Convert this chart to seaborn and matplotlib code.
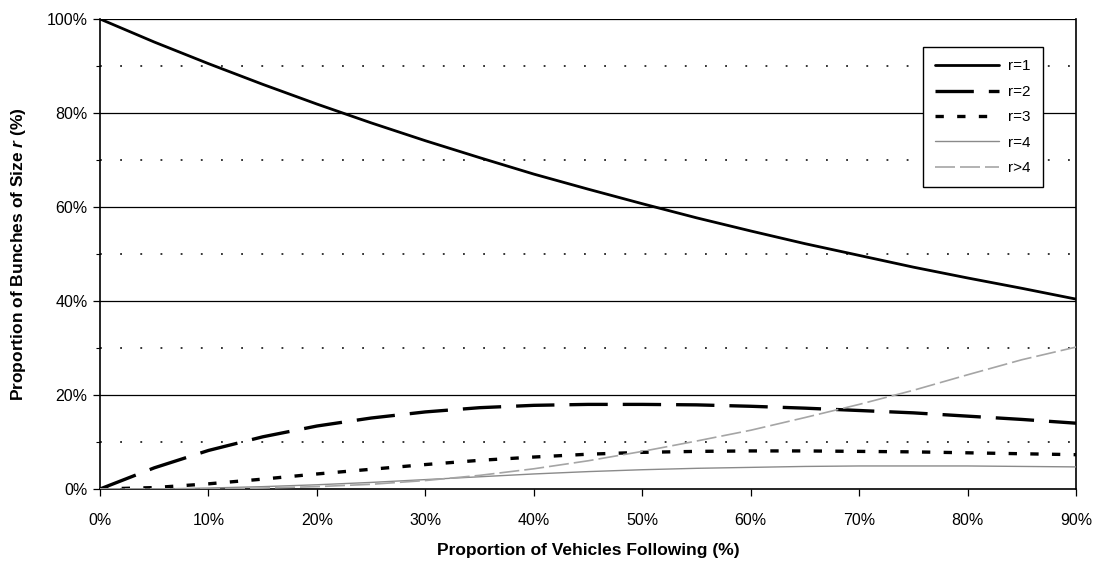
import matplotlib
matplotlib.use("Agg")
import matplotlib.pyplot as plt
import seaborn as sns
import numpy as np
import pandas as pd
from matplotlib.ticker import FuncFormatter, MultipleLocator

# ---- data (percent) ----
following = [0, 5, 10, 15, 20, 25, 30, 35, 40, 45, 50, 55, 60, 65, 70, 75, 80, 85, 90]
r1 = [100, 95.1, 90.5, 86.1, 81.9, 77.9, 74.1, 70.5, 67.0, 63.8, 60.7, 57.7, 54.9, 52.2, 49.7, 47.2, 44.9, 42.7, 40.4]
r2 = [0, 4.5, 8.2, 11.1, 13.4, 15.1, 16.4, 17.3, 17.8, 18.0, 18.0, 17.9, 17.6, 17.2, 16.7, 16.2, 15.5, 14.8, 14.0]
r3 = [0, 0.3, 1.1, 2.1, 3.2, 4.2, 5.2, 6.1, 6.8, 7.4, 7.8, 8.0, 8.1, 8.1, 8.0, 7.9, 7.7, 7.5, 7.3]
r4 = [0, 0.0, 0.2, 0.5, 0.9, 1.4, 2.0, 2.6, 3.2, 3.7, 4.1, 4.4, 4.6, 4.8, 4.9, 4.9, 4.9, 4.8, 4.7]
r_gt4 = [0, 0.0, 0.0, 0.2, 0.5, 1.0, 1.8, 2.9, 4.3, 6.0, 8.0, 10.2, 12.5, 15.2, 18.0, 21.0, 24.3, 27.5, 30.2]
series_labels = ["r=1", "r=2", "r=3", "r=4", "r>4"]
x_ticks = [0, 10, 20, 30, 40, 50, 60, 70, 80, 90]
y_major = [0, 20, 40, 60, 80, 100]
y_minor = [10, 30, 50, 70, 90]

sns.set_theme(style="white")
plt.rcParams["font.family"] = ["Liberation Sans", "DejaVu Sans"]
plt.rcParams["mathtext.fontset"] = "custom"
plt.rcParams["mathtext.it"] = "Liberation Sans:bold:italic"
plt.rcParams["mathtext.rm"] = "Liberation Sans:bold"
plt.rcParams["text.color"] = "black"
plt.rcParams["axes.labelcolor"] = "black"
plt.rcParams["xtick.color"] = "black"
plt.rcParams["ytick.color"] = "black"

fig = plt.figure(figsize=(10.98, 5.62), dpi=100)
ax = fig.add_axes([0.0911, 0.1299, 0.8889, 0.8363])

# grid lines
for v in y_major[1:]:
    ax.axhline(v, color="black", lw=0.9, zorder=1)
for v in y_minor:
    ax.axhline(v, color="black", lw=1.1, linestyle=(0, (1.2, 12)), zorder=1)

styles = [
    dict(color="black", lw=2.0, linestyle="-"),
    dict(color="black", lw=2.4, linestyle=(0, (11.5, 4.5))),
    dict(color="black", lw=2.4, linestyle=(0, (2.5, 4))),
    dict(color="#8a8a8a", lw=1.0, linestyle="-"),
    dict(color="#a5a5a5", lw=1.2, linestyle=(0, (12, 3))),
]
for vals, lab, st in zip([r1, r2, r3, r4, r_gt4], series_labels, styles):
    df = pd.DataFrame({"x": following, "y": vals})
    sns.lineplot(data=df, x="x", y="y", ax=ax, label=lab, zorder=3, **st)

ax.set_xlim(0, 90)
ax.set_ylim(0, 100)
ax.set_xticks(x_ticks)
ax.set_yticks(y_major)
ax.yaxis.set_minor_locator(MultipleLocator(10))
fmt = FuncFormatter(lambda v, p: f"{int(round(v))}%")
ax.xaxis.set_major_formatter(fmt)
ax.yaxis.set_major_formatter(fmt)
ax.tick_params(axis="both", which="major", direction="out", length=5, width=0.9,
               color="black", labelcolor="black", labelsize=11.5, bottom=True, left=True)
ax.tick_params(axis="x", which="major", pad=12)
ax.tick_params(axis="y", which="major", pad=4)
ax.tick_params(axis="y", which="minor", direction="out", length=3, width=0.8,
               color="black", left=True)
for side in ["left", "bottom", "right"]:
    ax.spines[side].set_visible(True)
    ax.spines[side].set_color("black")
    ax.spines[side].set_linewidth(1.2)
ax.spines["top"].set_visible(False)

ax.set_xlabel("Proportion of Vehicles Following (%)", fontsize=12.5, fontweight="bold",
              labelpad=11, color="black")
ax.set_ylabel(r"Proportion of Bunches of Size $r$ (%)", fontsize=12.5, fontweight="bold",
              labelpad=13, color="black")

leg = ax.legend(loc="upper right", bbox_to_anchor=(0.966, 0.94), borderaxespad=0,
                fontsize=11, frameon=True, fancybox=False, handlelength=4.2,
                handletextpad=0.6, labelspacing=0.75, borderpad=0.8)
leg.get_frame().set_edgecolor("black")
leg.get_frame().set_linewidth(1.0)
leg.get_frame().set_alpha(1)
for t in leg.get_texts():
    t.set_color("black")

fig.savefig("out.png", dpi=100, facecolor="white")
